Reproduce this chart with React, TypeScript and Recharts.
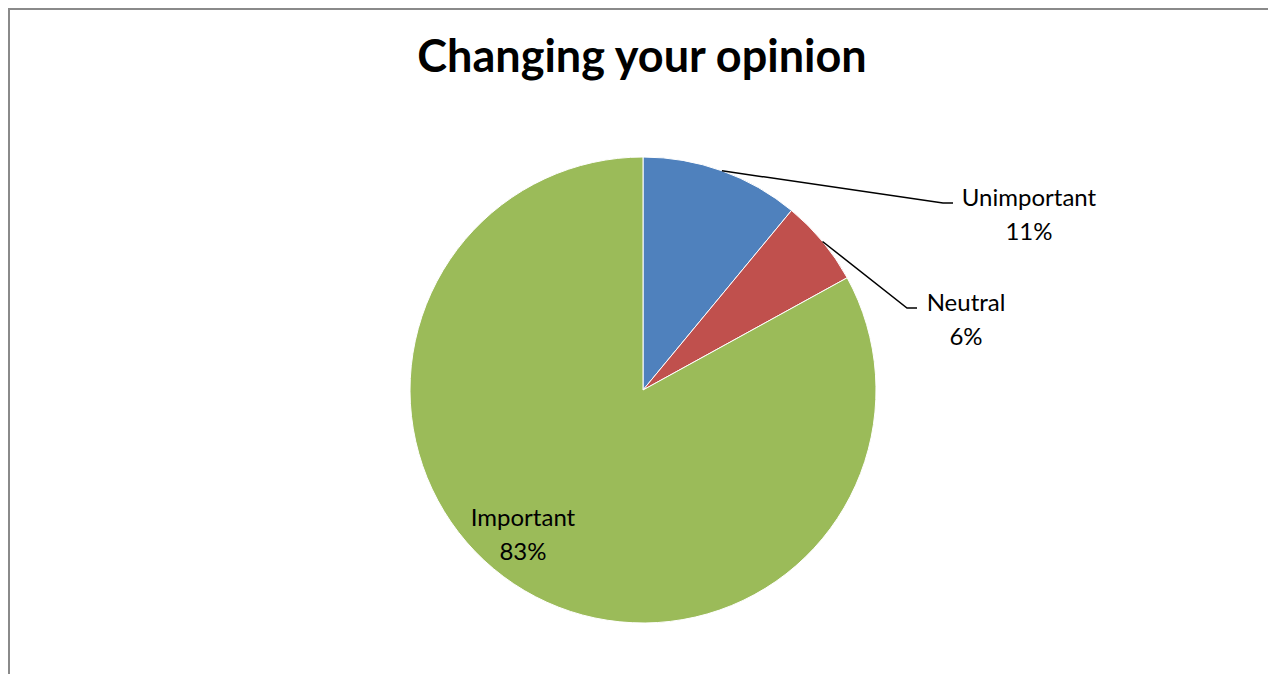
import { PieChart, Pie, Cell } from 'recharts'

const categories = ['Unimportant', 'Neutral', 'Important']
const shares = [11, 6, 83]
const sliceColors = ['#4F81BD', '#C0504D', '#9BBB59']

const data = categories.map((name, i) => ({ name, value: shares[i] }))

const RAD = Math.PI / 180
const FONT = 'Lato, "Open Sans", sans-serif'

// where each data label sits, relative to the pie centre (dy = first line)
const labelPlacement: Record<string, { dx: number; dy: number; ex?: number; ey?: number }> = {
  Unimportant: { dx: 386, dy: -194, ex: 300, ey: -187 },
  Neutral: { dx: 323, dy: -89, ex: 264, ey: -82 },
  Important: { dx: -120, dy: 126 },
}

const renderLabel = (props: any) => {
  const { cx, cy, midAngle, outerRadius, name, percent } = props
  const p = labelPlacement[name]
  if (!p) return null
  const tx = cx + p.dx
  const ty = cy + p.dy
  const pct = Math.round(percent * 100) + '%'
  let line = null
  if (p.ex !== undefined && p.ey !== undefined) {
    const sx = cx + outerRadius * Math.cos(-midAngle * RAD)
    const sy = cy + outerRadius * Math.sin(-midAngle * RAD)
    const ex = cx + p.ex
    const ey = cy + p.ey
    line = (
      <polyline
        points={`${sx},${sy} ${ex},${ey} ${ex + 10},${ey}`}
        fill="none"
        stroke="#000"
        strokeWidth={1.5}
      />
    )
  }
  return (
    <g>
      {line}
      <text x={tx} y={ty} textAnchor="middle" dominantBaseline="central" fontFamily={FONT} fontSize={24} fill="#000">
        {name}
      </text>
      <text x={tx} y={ty + 34} textAnchor="middle" dominantBaseline="central" fontFamily={FONT} fontSize={24} fill="#000">
        {pct}
      </text>
    </g>
  )
}

export default function App() {
  return (
    <div
      style={{
        position: 'relative',
        width: 1260,
        height: 666,
        boxSizing: 'border-box',
        borderLeft: '2px solid #8a8a8a',
        borderTop: '2px solid #8a8a8a',
        background: '#fff',
        overflow: 'hidden',
      }}
    >
      <div
        style={{
          position: 'absolute',
          left: 0,
          right: 0,
          top: 19,
          textAlign: 'center',
          fontFamily: FONT,
          fontWeight: 'bold',
          fontSize: 45,
          lineHeight: '52px',
          color: '#000',
          paddingLeft: 6,
        }}
      >
        Changing your opinion
      </div>
      <PieChart width={1258} height={664} margin={{ top: 0, right: 0, bottom: 0, left: 0 }}>
        <Pie
          data={data}
          dataKey="value"
          nameKey="name"
          cx={633}
          cy={380}
          outerRadius={233}
          startAngle={90}
          endAngle={-270}
          stroke="#fff"
          strokeWidth={1}
          label={renderLabel}
          labelLine={false}
          isAnimationActive={false}
        >
          {data.map((d, i) => (
            <Cell key={d.name} fill={sliceColors[i]} />
          ))}
        </Pie>
      </PieChart>
    </div>
  )
}
